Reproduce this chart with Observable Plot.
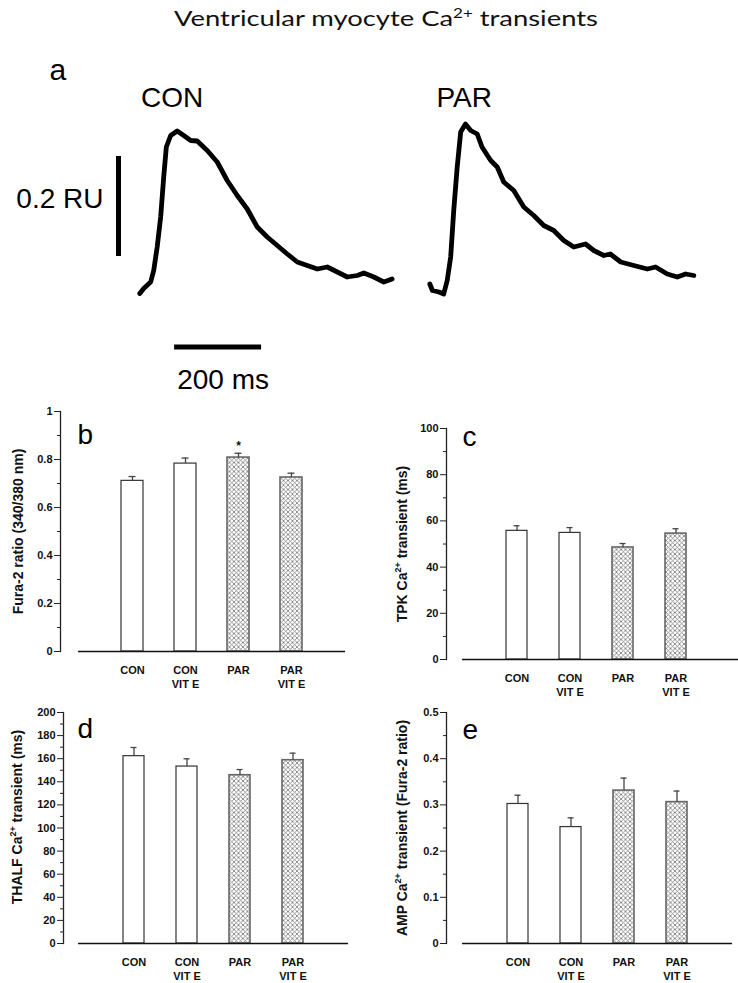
<!DOCTYPE html>
<html><head><meta charset="utf-8">
<script src="https://cdn.jsdelivr.net/npm/d3@7"></script>
<script src="https://cdn.jsdelivr.net/npm/@observablehq/plot@0.6"></script>
<style>
html,body{margin:0;padding:0;background:#fff;overflow:hidden}
#fig{position:relative;width:738px;height:983px;overflow:hidden;background:#fff}
#fig > .p{position:absolute}
#title{position:absolute;left:0;top:5px;width:772px;text-align:center;font-family:Lato,'Open Sans',sans-serif;font-size:22px;line-height:26px;color:#111;white-space:nowrap;transform:scaleX(1.245);transform-origin:386px 0}
#title sup{font-size:0.62em;vertical-align:baseline;position:relative;top:-0.62em}
</style></head><body>
<svg width="0" height="0" style="position:absolute">
  <defs>
    <pattern id="xhatch" patternUnits="userSpaceOnUse" width="4.5" height="4.5">
      <rect width="4.5" height="4.5" fill="#fff"/>
      <path d="M-1,1L1,-1M0,4.5L4.5,0M3.5,5.5L5.5,3.5M-1,3.5L1,5.5M0,0L4.5,4.5M3.5,-1L5.5,1" stroke="#808080" stroke-width="0.85"/>
    </pattern>
  </defs>
</svg>
<div id="fig"><div id="title">Ventricular myocyte Ca<sup>2+</sup> transients</div></div>
<script>
// ---------- Panel a: representative Ca2+ transients (time in ms, ratio units) ----------
const traceNames = ["CON", "PAR"];
const conTime  = [0,9,25,32,40,48,55,61,71,86,101,117,132,155,178,201,224,247,270,293,316,339,362,385,408,431,454,477,500,515,538,561,580];
const conRatio = [0,0.01,0.023,0.046,0.093,0.153,0.233,0.293,0.316,0.325,0.316,0.306,0.305,0.286,0.263,0.226,0.196,0.169,0.133,0.113,0.096,0.079,0.063,0.056,0.049,0.053,0.043,0.033,0.036,0.041,0.033,0.023,0.029];
const parTime  = [0,6,21,32,40,48,55,63,71,82,94,109,120,140,155,170,193,216,239,262,285,308,331,358,377,400,415,439,469,500,519,546,569,588,607];
const parRatio = [0.015,0.002,-0.001,-0.005,0.022,0.069,0.162,0.249,0.319,0.335,0.322,0.315,0.289,0.262,0.249,0.219,0.202,0.169,0.152,0.132,0.122,0.102,0.089,0.095,0.082,0.072,0.075,0.059,0.052,0.045,0.049,0.035,0.029,0.035,0.032];
const scaleBarAmplitude = 0.2;   // RU
const scaleBarDuration = 200;    // ms
const scaleBarAmpLabel = "0.2 RU";
const scaleBarDurLabel = "200 ms";

// ---------- Panels b-e: group means and SEM ----------
const groups = ["CON", "CON VIT E", "PAR", "PAR VIT E"];
const groupLabels = ["CON", "CON\nVIT E", "PAR", "PAR\nVIT E"];
const hatched = [false, false, true, true];

const fura2Ratio = [0.711, 0.783, 0.808, 0.725];
const fura2RatioSem = [0.018, 0.023, 0.018, 0.018];
const fura2Signif = ["", "", "*", ""];

const tpk = [55.7, 54.8, 48.5, 54.5];
const tpkSem = [2.2, 2.3, 1.7, 2.1];

const thalf = [162.2, 153.2, 145.7, 158.7];
const thalfSem = [7.5, 6.7, 4.9, 6.1];

const amp = [0.302, 0.252, 0.331, 0.306];
const ampSem = [0.019, 0.020, 0.027, 0.024];

const ticksB = [0, 0.2, 0.4, 0.6, 0.8, 1], minorB = [0.1, 0.3, 0.5, 0.7, 0.9];
const ticksC = [0, 20, 40, 60, 80, 100], minorC = [10, 30, 50, 70, 90];
const ticksD = [0, 20, 40, 60, 80, 100, 120, 140, 160, 180, 200], minorD = [10, 30, 50, 70, 90, 110, 130, 150, 170, 190];
const ticksE = [0, 0.1, 0.2, 0.3, 0.4, 0.5], minorE = [0.05, 0.15, 0.25, 0.35, 0.45];

const FONT = "Arial, 'Liberation Sans', Helvetica, sans-serif";
const fig = document.getElementById("fig");
function mount(svg, left, top) {
  const d = document.createElement("div");
  d.className = "p"; d.style.left = left + "px"; d.style.top = top + "px";
  d.appendChild(svg); fig.appendChild(d);
}
function superscriptCa(svg) {
  svg.querySelectorAll("text").forEach(t => {
    if (t.querySelector("tspan")) return;
    const s = t.textContent, i = s.indexOf("Ca2+");
    if (i < 0) return;
    const ns = "http://www.w3.org/2000/svg";
    t.textContent = "";
    t.appendChild(document.createTextNode(s.slice(0, i + 2)));
    const sup = document.createElementNS(ns, "tspan");
    sup.setAttribute("font-size", "9"); sup.setAttribute("dy", "-6");
    sup.textContent = "2+"; t.appendChild(sup);
    const rest = document.createElementNS(ns, "tspan");
    rest.setAttribute("dy", "6"); rest.textContent = s.slice(i + 4);
    t.appendChild(rest);
  });
}

// ---------- Panel a ----------
function tracePlot(name, time, ratio, xDomain, yDomain, withScale, labelDx, withLetter) {
  const data = time.map((t, i) => ({t, r: ratio[i]}));
  const marks = [
    Plot.line(data, {x: "t", y: "r", stroke: "#000", strokeWidth: 4.8, strokeLinejoin: "round", strokeLinecap: "round"}),
    Plot.text([name], {text: d => d, frameAnchor: "top-left", dx: labelDx, dy: 56, lineAnchor: "bottom", textAnchor: "start", fontSize: 28, fill: "#000"})
  ];
  if (withLetter) marks.push(Plot.text(["a"], {text: d => d, frameAnchor: "top-left", dx: 49, dy: 29, lineAnchor: "bottom", textAnchor: "start", fontSize: 30, fill: "#000"}));
  if (withScale) {
    marks.push(
      Plot.ruleX([scaleBarAmplitude], {x: () => -49, y1: () => 0.074, y2: d => 0.074 + d, stroke: "#000", strokeWidth: 5}),
      Plot.text([scaleBarAmpLabel], {x: () => -49, y: () => 0.074 + scaleBarAmplitude / 2, text: d => d, dx: -15, dy: -7, textAnchor: "end", fontSize: 28, fill: "#000"}),
      Plot.ruleY([scaleBarDuration], {y: () => -0.107, x1: () => 80, x2: d => 80 + d, stroke: "#000", strokeWidth: 5}),
      Plot.text([scaleBarDurLabel], {x: () => 80 + scaleBarDuration / 2, y: () => -0.107, text: d => d, dx: 5, dy: 22, lineAnchor: "top", fontSize: 28, fill: "#000"})
    );
  }
  return Plot.plot({
    width: xDomain.w, height: 330, margin: 0,
    style: {fontFamily: FONT, background: "transparent", overflow: "visible", color: "#000"},
    x: {domain: xDomain.d, axis: null},
    y: {domain: yDomain, axis: null},
    marks
  });
}
mount(tracePlot(traceNames[0], conTime, conRatio, {w: 420, d: [-320.2, 645.3]}, [-0.174, 0.486], true, 140.5, true), 0, 50);
mount(tracePlot(traceNames[1], parTime, parRatio, {w: 318, d: [-21.4, 709.7]}, [-0.178, 0.482], false, 16, false), 420, 50);

// ---------- Bar panels ----------
function barPanel(o) {
  const rows = groups.map((g, i) => ({group: g, value: o.values[i], sem: o.sems[i], hatched: hatched[i], sig: o.sig ? o.sig[i] : ""}));
  const fmt = d => String(+d.toFixed(2));
  const svg = Plot.plot({
    width: o.width, height: o.height,
    marginTop: o.mt, marginBottom: o.mb, marginLeft: o.ml, marginRight: o.mr,
    style: {fontFamily: FONT, background: "transparent", overflow: "visible", color: "#111"},
    x: {domain: groups, paddingInner: o.pi, paddingOuter: o.po, align: o.align},
    y: {domain: o.domain},
    marks: [
      Plot.barY(rows.filter(d => !d.hatched), {x: "group", y: "value", fill: "#fff", stroke: "#333", strokeWidth: 1.2}),
      Plot.barY(rows.filter(d => d.hatched), {x: "group", y: "value", fill: "url(#xhatch)", stroke: "#666", strokeWidth: 1.6}),
      Plot.ruleX(rows, {x: "group", y1: "value", y2: d => d.value + d.sem, stroke: "#444", strokeWidth: 1.3}),
      Plot.tickY(rows, {x: "group", y: d => d.value + d.sem, insetLeft: 7.5, insetRight: 7.5, stroke: "#444", strokeWidth: 1.3}),
      Plot.text(rows.filter(d => d.sig), {x: "group", y: d => d.value + d.sem, text: "sig", dy: -3, lineAnchor: "bottom", fontWeight: "bold", fontSize: 12, fill: "#111"}),
      Plot.ruleY([0], {stroke: "#111", strokeWidth: 1.4}),
      Plot.frame({anchor: "left", dx: o.axisDx, stroke: "#222", strokeWidth: 1.3}),
      Plot.axisY({ticks: o.minor, tickSize: 3, dx: o.axisDx, tickFormat: () => "", label: null, stroke: "#222"}),
      Plot.axisY({ticks: o.ticks, tickSize: 6, tickPadding: 2, dx: o.axisDx, tickFormat: fmt, label: null, stroke: "#222", fontWeight: "bold", fontSize: 11, fill: "#111"}),
      Plot.axisX({tickSize: 0, tickPadding: 13, tickFormat: g => groupLabels[groups.indexOf(g)], label: null, fontWeight: "bold", fontSize: 11, lineHeight: 1.23, fill: "#111"}),
      Plot.text([o.letter], {text: d => d, frameAnchor: "top-left", dx: o.letterDx, dy: o.letterDy, lineAnchor: "bottom", textAnchor: "start", fontSize: 28, fill: "#000"}),
      Plot.text([o.yLabel], {text: d => d, frameAnchor: "left", rotate: -90, textAnchor: "middle", lineAnchor: "middle", dx: o.labelDx, dy: o.labelDy || 0, fontWeight: "bold", fontSize: 14, fill: "#111"})
    ]
  });
  superscriptCa(svg);
  return svg;
}

mount(barPanel({values: fura2Ratio, sems: fura2RatioSem, sig: fura2Signif, domain: [0, 1], ticks: ticksB, minor: minorB,
  yLabel: "Fura-2 ratio (340/380 nm)", letter: "b", width: 369, height: 300, mt: 16, mb: 44, ml: 78, mr: 24,
  pi: 0.587, po: 0.8, align: 0.5, axisDx: -18, letterDx: -1, letterDy: 32, labelDx: -60}), 0, 395);

mount(barPanel({values: tpk, sems: tpkSem, domain: [0, 100], ticks: ticksC, minor: minorC,
  yLabel: "TPK Ca2+ transient (ms)", letter: "c", width: 369, height: 290, mt: 18, mb: 41, ml: 93, mr: 0,
  pi: 0.597, po: 0.888, align: 0.465, axisDx: -16, letterDx: 0, letterDy: 17, labelDx: -60}), 369, 410);

mount(barPanel({values: thalf, sems: thalfSem, domain: [0, 200], ticks: ticksD, minor: minorD,
  yLabel: "THALF Ca2+ transient (ms)", letter: "d", width: 369, height: 283, mt: 12, mb: 40, ml: 78, mr: 21,
  pi: 0.6, po: 0.814, align: 0.5, axisDx: -15, letterDx: -1, letterDy: 25, labelDx: -61, labelDy: -11}), 0, 700);

mount(barPanel({values: amp, sems: ampSem, domain: [0, 0.5], ticks: ticksE, minor: minorE,
  yLabel: "AMP Ca2+ transient (Fura-2 ratio)", letter: "e", width: 369, height: 283, mt: 12, mb: 40, ml: 93, mr: 6,
  pi: 0.597, po: 0.83, align: 0.5, axisDx: -16, letterDx: 0, letterDy: 26, labelDx: -60}), 369, 700);
</script>
</body></html>
